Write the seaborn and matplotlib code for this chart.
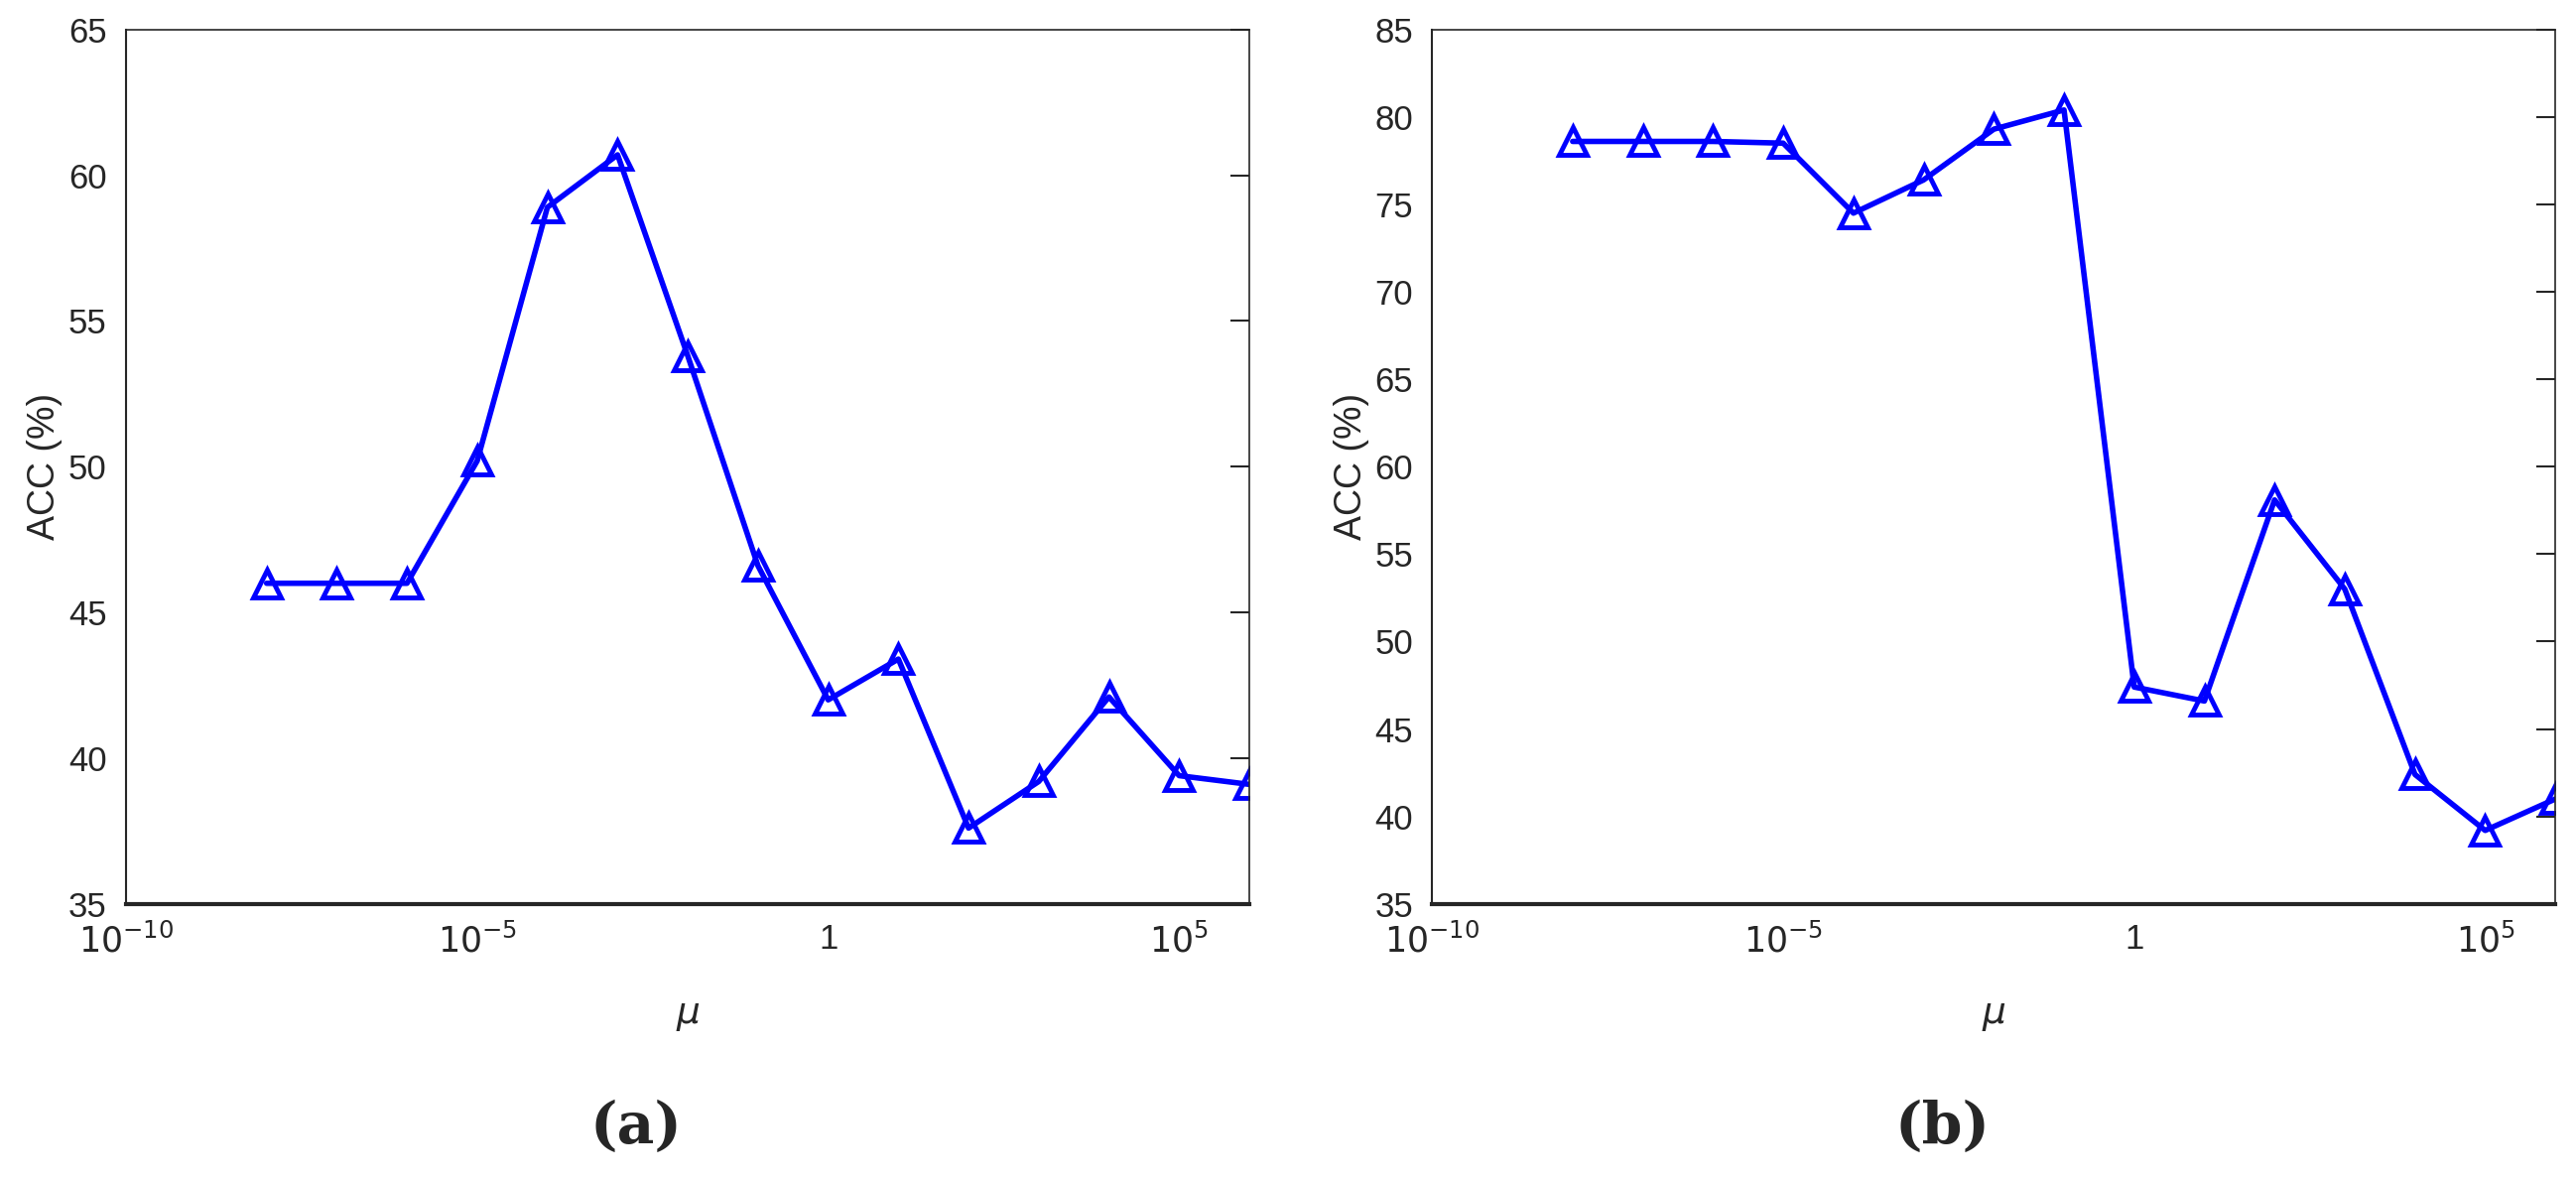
import numpy as np
import pandas as pd
import seaborn as sns
import matplotlib.pyplot as plt

sns.set_theme(style="white")
plt.rcParams['font.family'] = ['Liberation Sans', 'DejaVu Sans']

# data
mu = [1e-8, 1e-7, 1e-6, 1e-5, 1e-4, 1e-3, 1e-2, 1e-1, 1, 10, 100, 1e3, 1e4, 1e5, 1e6]
acc_a = [46.0, 46.0, 46.0, 50.2, 58.9, 60.7, 53.8, 46.6, 42.0, 43.4, 37.6, 39.2, 42.1, 39.4, 39.1]
acc_b = [78.6, 78.6, 78.6, 78.5, 74.5, 76.4, 79.3, 80.4, 47.4, 46.6, 58.1, 53.0, 42.4, 39.2, 41.0]
ylims = [(35, 65), (35, 85)]
panel_labels = ["a", "b"]

fig = plt.figure(figsize=(25.96, 11.89), dpi=100)
boxes = [[0.049, 0.234, 0.436, 0.741], [0.556, 0.234, 0.436, 0.741]]

for box, acc, yl, lab in zip(boxes, [acc_a, acc_b], ylims, panel_labels):
    ax = fig.add_axes(box)
    df = pd.DataFrame({"mu": mu, "acc": acc})
    sns.lineplot(data=df, x="mu", y="acc", ax=ax, color="#0000ff", lw=4,
                 marker="^", markersize=20, markerfacecolor="none",
                 markeredgecolor="#0000ff", markeredgewidth=3.5)
    ax.set_xscale("log")
    ax.set_xlim(1e-10, 1e6)
    ax.set_ylim(*yl)
    ax.set_yticks(np.arange(yl[0], yl[1] + 1, 5))
    ax.set_xticks([1e-10, 1e-5, 1, 1e5])
    ax.set_xticklabels([r"$10^{-10}$", r"$10^{-5}$", "1", r"$10^{5}$"])
    ax.set_xticks([10.0**k for k in range(-10, 7)], minor=True)
    ax.set_xticklabels([], minor=True)
    ax.tick_params(axis="both", which="major", direction="in", length=14, width=1.5,
                   labelsize=25, colors="#262626", pad=14, top=False, right=True)
    ax.tick_params(axis="x", which="minor", direction="in", length=8, width=1.2, top=False)
    for s in ax.spines.values():
        s.set_color("#262626")
        s.set_linewidth(1.2)
    ax.spines["bottom"].set_linewidth(3)
    ax.spines["left"].set_linewidth(1.5)
    ax.set_xlabel(r"$\mu$", fontsize=27, labelpad=28, color="#262626")
    ax.set_ylabel("ACC (%)", fontsize=27, color="#262626")
    ax.set_facecolor("white")
    fig.text(box[0] + box[2] / 2 - 0.02, 0.045, f"({lab})", ha="center", va="center",
             fontsize=42, family="DejaVu Serif", fontweight="bold")

fig.savefig("out.png", dpi=100, facecolor="white")
